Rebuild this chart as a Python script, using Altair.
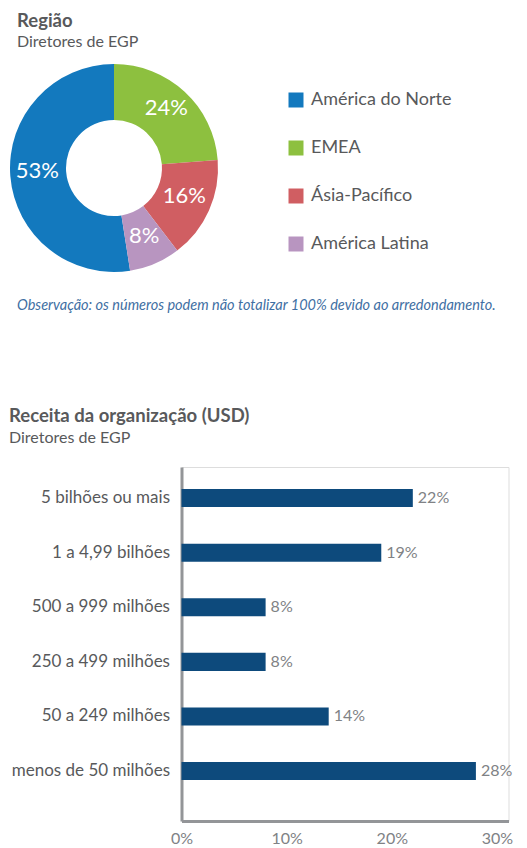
import altair as alt
import pandas as pd

FONT = "Lato"

# ---- Donut data ----
regions = ["América do Norte", "EMEA", "Ásia-Pacífico", "América Latina"]
region_share = [53, 24, 16, 8]
region_colors = ["#1379be", "#8dc03f", "#d05e62", "#b895c0"]

# ---- Bar data ----
revenue_cats = ["5 bilhões ou mais", "1 a 4,99 bilhões", "500 a 999 milhões",
                "250 a 499 milhões", "50 a 249 milhões", "menos de 50 milhões"]
revenue_pct = [22, 19, 8, 8, 14, 28]
x_ticks = [0, 10, 20, 30]

title1 = "Região"
subtitle1 = "Diretores de EGP"
note = "Observação: os números podem não totalizar 100% devido ao arredondamento."
title2 = "Receita da organização (USD)"
subtitle2 = "Diretores de EGP"

donut_df = pd.DataFrame({
    "region": regions,
    "share": region_share,
    "ord": [(i - 1) % len(regions) for i in range(len(regions))],
})
donut_df["label"] = donut_df["share"].astype(str) + "%"

bar_df = pd.DataFrame({"cat": revenue_cats, "pct": revenue_pct})
bar_df["label"] = bar_df["pct"].astype(str) + "%"

# plot origin = bar plot area top-left
CX, CY = -67.5, -299

color_scale = alt.Scale(domain=regions, range=region_colors)

arc = alt.Chart(donut_df).mark_arc(outerRadius=104, innerRadius=48).encode(
    theta=alt.Theta("share:Q", stack=True),
    color=alt.Color("region:N", scale=color_scale, sort=regions,
                    legend=alt.Legend(orient="none", legendX=105.5, legendY=-376,
                                      title=None, symbolType="square", symbolSize=225,
                                      symbolStrokeWidth=0, symbolOpacity=1,
                                      labelFont=FONT, labelFontSize=18,
                                      labelColor="#58595b", rowPadding=30,
                                      labelOffset=6, padding=0)),
    order=alt.Order("ord:Q"),
    x=alt.value(CX), y=alt.value(CY),
)

arc_text = alt.Chart(donut_df).mark_text(radius=77, font=FONT, fontSize=22,
                                         color="white").encode(
    theta=alt.Theta("share:Q", stack=True),
    order=alt.Order("ord:Q"),
    text="label:N",
    x=alt.value(CX), y=alt.value(CY - 3),
)

y_enc = alt.Y("cat:N", sort=revenue_cats, title=None,
              scale=alt.Scale(paddingInner=0.67, paddingOuter=0.576, align=0.35),
              axis=alt.Axis(ticks=False, labelPadding=12, labelFont=FONT,
                            labelFontSize=17, labelColor="#58595b",
                            domainColor="#939598", domainWidth=3, grid=False,
                            labelLimit=400))

x_enc = alt.X("pct:Q", title=None,
              scale=alt.Scale(domain=[0, 31.1], nice=False, zero=True),
              axis=alt.Axis(values=x_ticks, labelExpr="datum.value + '%'",
                            ticks=False, labelPadding=9, labelFont=FONT,
                            labelFontSize=16, labelColor="#808285",
                            domainColor="#939598", domainWidth=3, grid=False,
                            labelFlush=False))

bars = alt.Chart(bar_df).mark_bar(color="#0d4a7c").encode(x=x_enc, y=y_enc)

bar_labels = alt.Chart(bar_df).mark_text(align="left", baseline="middle", dx=5,
                                         font=FONT, fontSize=16,
                                         color="#808285").encode(
    x="pct:Q", y=alt.Y("cat:N", sort=revenue_cats), text="label:N")


def text_layer(txt, x, y, size, weight="normal", color="#58595b", style="normal"):
    return alt.Chart(pd.DataFrame({"t": [txt]})).mark_text(
        align="left", baseline="alphabetic", font=FONT, fontSize=size,
        fontWeight=weight, color=color, fontStyle=style,
    ).encode(text="t:N", x=alt.value(x), y=alt.value(y))


t1 = text_layer(title1, -164.5, -440, 18.5, weight="bold")
s1 = text_layer(subtitle1, -164.5, -420, 16)
n1 = text_layer(note, -164.5, -157, 14.5, color="#3f6fa3", style="italic")
t2 = text_layer(title2, -172.5, -45, 18.5, weight="bold")
s2 = text_layer(subtitle2, -172.5, -24, 16)

chart = alt.layer(arc, arc_text, bars, bar_labels, t1, s1, n1, t2, s2).properties(
    width=327, height=354,
    autosize=alt.AutoSizeParams(type="none"),
    padding={"left": 173.5, "top": 459, "right": 10, "bottom": 28},
).configure_view(stroke=None).configure(background="white")

chart.save("out.html", embed_options={"renderer": "svg", "actions": False})
